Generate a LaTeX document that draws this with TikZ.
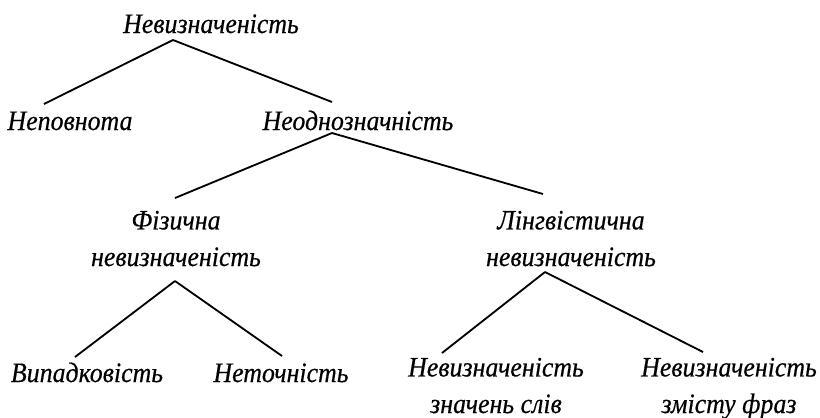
\documentclass[tikz,border=0pt]{standalone}
\usepackage{fontspec}
\setmainfont[FakeStretch=0.92, FakeBold=0.4]{Liberation Serif}
\usetikzlibrary{positioning}

\begin{document}
\begin{tikzpicture}[
  x=0.025cm, y=-0.025cm,
  term/.style={
    font=\itshape\fontsize{20}{26}\selectfont,
    inner sep=0pt,
    align=center,
    anchor=base,
  },
  line/.style={
    line width=1.3pt,
    draw=black,
  }]
  \useasboundingbox (0,0) rectangle (820,417);
  % the terms, placed on their (last) baselines
  \node[term] (root)  at (211,33)  {Невизначеність};
  \node[term] (nepov) at (70,130)  {Неповнота};
  \node[term] (neodn) at (358,130) {Неоднозначність};
  \node[term] (fiz)   at (176,266) {Фізична\\невизначеність};
  \node[term] (ling)  at (571,266) {Лінгвістична\\невизначеність};
  \node[term] (vyp)   at (87,382)  {Випадковість};
  \node[term] (netoch) at (281,382) {Неточність};
  \node[term] (znach) at (496,413) {Невизначеність\\значень слів};
  \node[term] (zmist) at (729,413) {Невизначеність\\змісту фраз};
  % branches
  \foreach \a/\ax/\ay/\b/\bx/\by in
  {root/-38/7/nepov/-26/-26, root/-38/7/neodn/-26/-28,
   neodn/-26/3/fiz/-1/-68, neodn/-26/3/ling/-28/-72,
   fiz/-1/15/vyp/-12/-25, fiz/-1/15/netoch/1/-26,
   ling/-26/6/znach/-54/-60, ling/-26/6/zmist/-26/-61}
  {
    \draw[line] ([shift={(\ax,\ay)}]\a.base) -- ([shift={(\bx,\by)}]\b.base);
  }
\end{tikzpicture}
\end{document}
